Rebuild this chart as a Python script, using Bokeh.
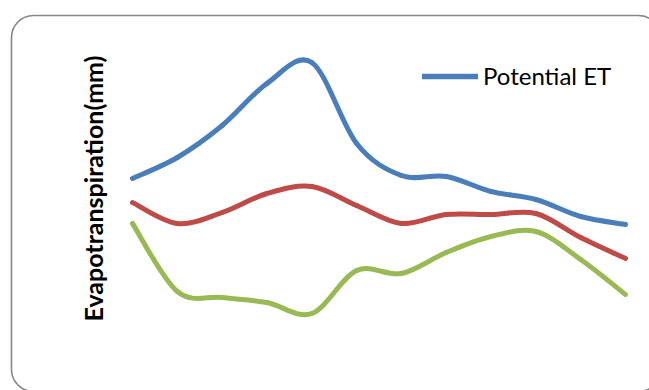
import math
from bokeh.plotting import figure
from bokeh.models import Range1d, BoxAnnotation, Label, Legend, LegendItem
from bokeh.embed import file_html
from bokeh.resources import INLINE

# ---- data (arbitrary mm scale) ----
months = ["Jan", "Feb", "Mar", "Apr", "May", "Jun", "Jul", "Aug", "Sep", "Oct", "Nov", "Dec"]
potential_et = [17.2, 19.3, 22.5, 26.7, 28.8, 20.7, 17.5, 17.4, 15.9, 15.1, 13.4, 12.6]
series_red = [14.8, 12.7, 13.8, 15.7, 16.4, 14.5, 12.7, 13.6, 13.6, 13.7, 11.3, 9.2]
series_green = [12.7, 5.9, 5.3, 4.8, 3.7, 8.0, 7.7, 9.8, 11.4, 11.9, 9.1, 5.6]

W, H = 649, 390
XPX0, XSTEP = 132.0, 44.82      # pixel of first month, pixel per month
YPX0, YSCALE = 350.0, 10.0      # pixel where value 0 sits, pixel per mm


def px2x(px):
    return (px - XPX0) / XSTEP


def py2y(py):
    return (YPX0 - py) / YSCALE


p = figure(width=W, height=H, output_backend="svg", toolbar_location=None,
           x_range=Range1d(px2x(0), px2x(W)), y_range=Range1d(py2y(H), py2y(0)),
           min_border=0, min_border_left=0, min_border_right=0,
           min_border_top=0, min_border_bottom=0)
p.axis.visible = False
p.grid.visible = False
p.outline_line_color = None
p.background_fill_color = "white"
p.border_fill_color = "white"

# rounded chart border
p.add_layout(BoxAnnotation(left=px2x(11), right=px2x(660), top=py2y(15), bottom=py2y(391),
                           fill_alpha=0, line_color="#868686", line_alpha=1.0, line_width=1.6,
                           border_radius=22, level="underlay"))


def smooth_segments(xs, ys):
    """Catmull-Rom style control points (as Excel smoothed lines)."""
    n = len(xs)
    out = dict(x0=[], y0=[], x1=[], y1=[], cx0=[], cy0=[], cx1=[], cy1=[])
    for i in range(n - 1):
        xp, yp = (xs[i - 1], ys[i - 1]) if i > 0 else (xs[i], ys[i])
        xn, yn = (xs[i + 2], ys[i + 2]) if i + 2 < n else (xs[i + 1], ys[i + 1])
        out["x0"].append(xs[i]); out["y0"].append(ys[i])
        out["x1"].append(xs[i + 1]); out["y1"].append(ys[i + 1])
        out["cx0"].append(xs[i] + (xs[i + 1] - xp) / 6.0)
        out["cy0"].append(ys[i] + (ys[i + 1] - yp) / 6.0)
        out["cx1"].append(xs[i + 1] - (xn - xs[i]) / 6.0)
        out["cy1"].append(ys[i + 1] - (yn - ys[i]) / 6.0)
    return out


xs = list(range(len(months)))
renderers = {}
for name, vals, col in [("green", series_green, "#98B954"),
                        ("red", series_red, "#BE4B48"),
                        ("blue", potential_et, "#4A7EBB")]:
    seg = smooth_segments(xs, vals)
    renderers[name] = p.bezier(source=seg, x0="x0", y0="y0", x1="x1", y1="y1",
                               cx0="cx0", cy0="cy0", cx1="cx1", cy1="cy1",
                               line_color=col, line_width=5, line_cap="round")

# legend swatch renderer (a single NaN point: draws nothing on the plot)
legend_line = p.line(x=[float("nan")], y=[float("nan")], line_color="#4A7EBB",
                     line_width=5.5, line_cap="round")
legend = Legend(items=[LegendItem(label="Potential ET", renderers=[legend_line])],
                location=(422, 390 - 90), orientation="vertical",
                glyph_width=56, glyph_height=20, label_standoff=5,
                padding=0, margin=0, spacing=0,
                border_line_color=None, background_fill_alpha=0,
                label_text_font="Lato", label_text_font_size="24px",
                label_text_color="black")
p.add_layout(legend, "center")

p.add_layout(Label(x=92, y=H - 188, x_units="screen", y_units="screen",
                   text="Evapotranspiration(mm)", angle=math.pi / 2,
                   text_align="center", text_baseline="middle",
                   text_font="Lato", text_font_style="bold", text_font_size="25px",
                   text_color="black"))

open("out.html", "w").write(file_html(p, INLINE))
